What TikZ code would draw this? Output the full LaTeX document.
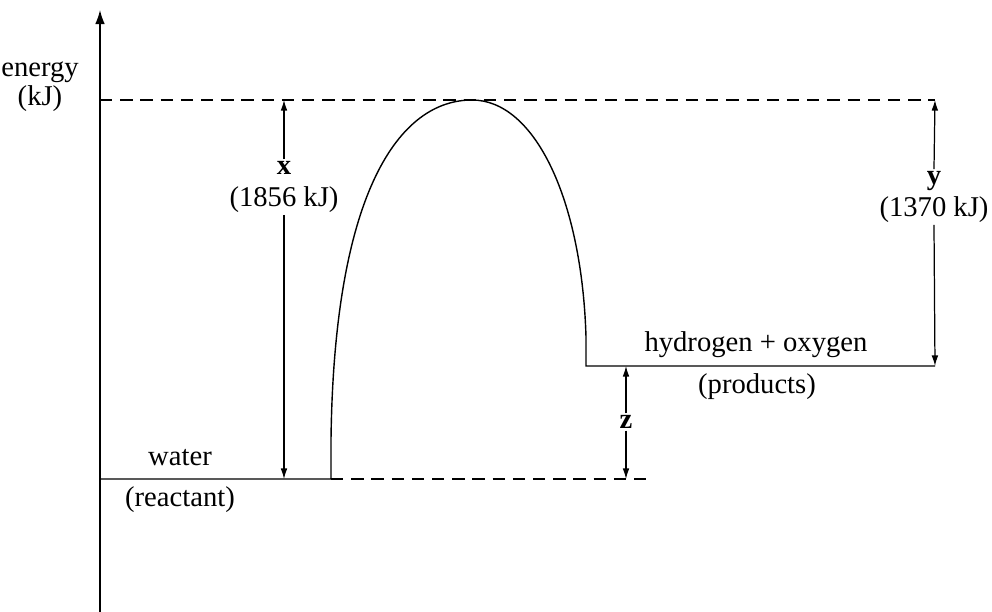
\documentclass[tikz,border=0pt]{standalone}
\usepackage{fontspec}
\setmainfont{Liberation Serif}
\usetikzlibrary{arrows.meta,positioning}

\tikzset{
  lvl/.style={line width=0.8pt},
  guide/.style={line width=0.7pt, dash pattern=on 7pt off 4.5pt},
  dim/.style={line width=0.7pt, -{Latex[length=6pt,width=3.8pt]}},
  lbl/.style={font=\fontsize{16.3}{18.5}\selectfont, inner sep=1pt, align=center}
}

\begin{document}
\begin{tikzpicture}[x=0.02cm, y=-0.02cm]
    \useasboundingbox (0,0) rectangle (992,612);
    % axis
    \coordinate (ax0) at (100,612);
    \coordinate (ax1) at (100,10);
    \draw[lvl, -{Latex[length=8pt,width=5.5pt]}] (ax0) -- (ax1);
    \node[lbl, font=\fontsize{16.3}{16.5}\selectfont] (elab) at (40,87) {energy\\(kJ)};
    % guide lines
    \coordinate (topL) at (100,100);
    \coordinate (topR) at (935,100);
    \draw[guide] (topL) -- (topR);
    \coordinate (lowL) at (331,479);
    \coordinate (lowR) at (650,479);
    \draw[guide] (lowL) -- (lowR);
    % energy path
    \coordinate (r0) at (100,479);
    \coordinate (peak) at (472,100);
    \coordinate (p0) at (586,366);
    \coordinate (p1) at (935,366);
    \draw[lvl] (r0) -- (lowL) -- (331,440)
      .. controls (334,190) and (400,100) .. (peak)
      .. controls (535,100) and (582,200) .. (586,337) -- (p0) -- (p1);
    \node[lbl] (water) at (180,458) {water};
    \node[lbl] (react) at (180,500) {(reactant)};
    \node[lbl] (hyox) at (756,345) {hydrogen + oxygen};
    \node[lbl] (prod) at (757,387) {(products)};
    % x
    \node[lbl] (xlab) at (284,187) {\textbf{x}\\(1856 kJ)};
    \draw[dim] (xlab.north) -- (284,100);
    \draw[dim] (xlab.south) -- (284,479);
    % y
    \node[lbl] (ylab) at (934,197) {\textbf{y}\\(1370 kJ)};
    \draw[dim] (ylab.north) -- (topR);
    \draw[dim] (ylab.south) -- (p1);
    % z
    \node[lbl] (zlab) at (626,422) {\textbf{z}};
    \draw[dim] (zlab.north) -- (626,366);
    \draw[dim] (zlab.south) -- (626,479);
\end{tikzpicture}
\end{document}
